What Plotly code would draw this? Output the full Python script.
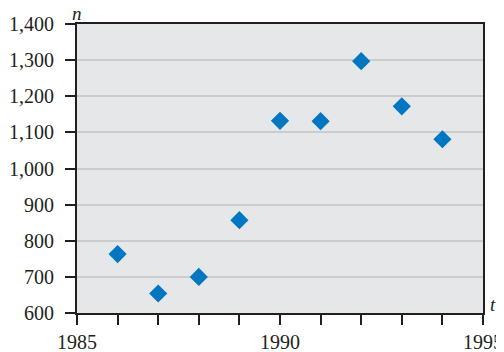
import plotly.graph_objects as go

years = [1986, 1987, 1988, 1989, 1990, 1991, 1992, 1993, 1994]
counts = [763, 654, 700, 857, 1132, 1131, 1297, 1172, 1081]

x_tickvals = list(range(1985, 1996))
x_ticktext = [str(v) if v in (1985, 1990, 1995) else "" for v in x_tickvals]
y_tickvals = list(range(600, 1401, 100))
y_ticktext = [f"{v:,}" for v in y_tickvals]

font = dict(family="Liberation Serif", size=20, color="#231f20")
label_font = dict(family="Liberation Serif", size=19, color="#231f20")

fig = go.Figure(go.Scatter(
    x=years, y=counts, mode="markers",
    marker=dict(symbol="diamond", size=14, color="#0077c0", line=dict(width=0)),
))

# page body has an 8px margin, so the figure is sized/offset to compensate
fig.update_layout(
    width=496, height=344,
    margin=dict(l=69, r=21, t=16, b=39),
    paper_bgcolor="white", plot_bgcolor="#e6e7e9",
    showlegend=False, font=font,
    xaxis=dict(range=[1985, 1995], tickvals=x_tickvals, ticktext=x_ticktext,
               ticks="outside", ticklen=10, tickwidth=2, tickcolor="#231f20",
               showline=True, linecolor="#231f20", linewidth=2, mirror=True,
               showgrid=False, zeroline=False, tickfont=font, automargin=False,
               ticklabelstandoff=0),
    yaxis=dict(range=[600, 1400], tickvals=y_tickvals, ticktext=y_ticktext,
               ticks="outside", ticklen=10, tickwidth=2, tickcolor="#231f20",
               showline=True, linecolor="#231f20", linewidth=2, mirror=True,
               showgrid=True, gridcolor="#cbccce", gridwidth=1.5,
               zeroline=False, tickfont=font, automargin=False,
               ticklabelstandoff=7),
    annotations=[
        dict(text="<i>n</i>", x=0, y=1, xref="paper", yref="paper",
             xanchor="center", yanchor="middle", showarrow=False,
             font=label_font, yshift=11, borderpad=0),
        dict(text="<i>t</i>", x=1, y=0, xref="paper", yref="paper",
             xanchor="left", yanchor="bottom", showarrow=False,
             font=label_font, xshift=6, yshift=-3, borderpad=0),
    ],
)

fig.write_html("out.html")
